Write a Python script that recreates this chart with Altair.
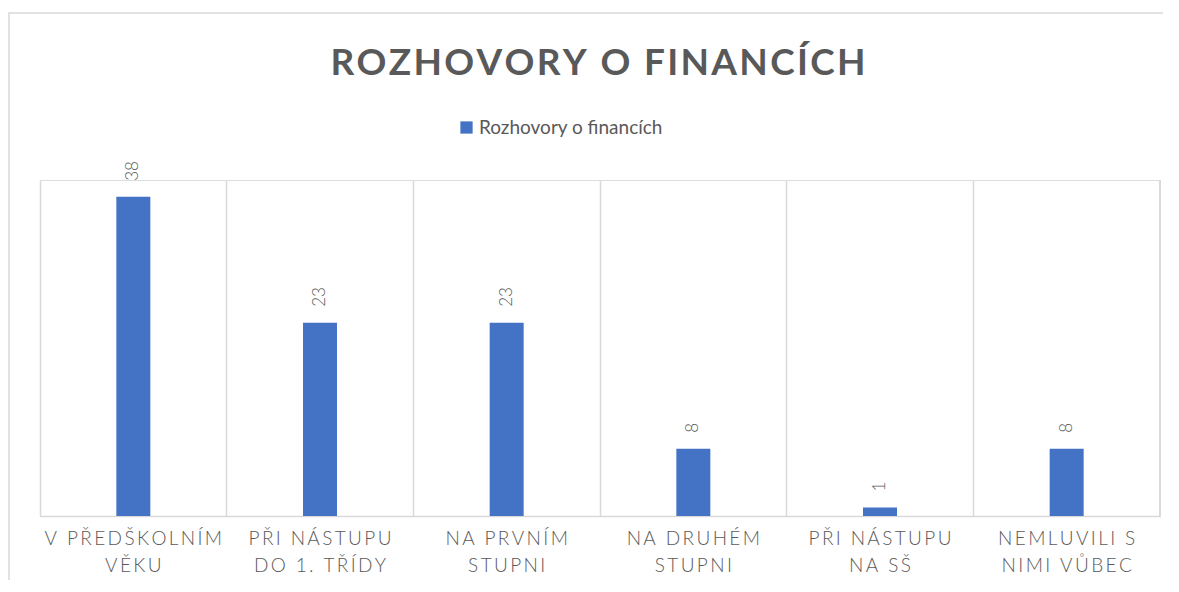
import altair as alt
import pandas as pd

categories = [
    ["V PŘEDŠKOLNÍM", "VĚKU"],
    ["PŘI NÁSTUPU", "DO 1. TŘÍDY"],
    ["NA PRVNÍM", "STUPNI"],
    ["NA DRUHÉM", "STUPNI"],
    ["PŘI NÁSTUPU", "NA SŠ"],
    ["NEMLUVILI S", "NIMI VŮBEC"],
]
values = [38, 23, 23, 8, 1, 8]
series_name = "Rozhovory o financích"
title_text = "ROZHOVORY O FINANCÍCH"


def spaced(s, sep="\u2009"):
    return sep.join(list(s))


labels = ["|".join(spaced(line) for line in cat) for cat in categories]

df = pd.DataFrame({"label": labels, "value": values, "series": series_name})
order = labels

GRAY = "#595959"
GRID = "#d9d9d9"
FONT = "Lato"
W, H = 1120, 336

x = alt.X(
    "label:N",
    sort=order,
    scale=alt.Scale(paddingInner=0, paddingOuter=0),
    axis=alt.Axis(
        title=None,
        labelAngle=0,
        labelExpr="split(datum.label, '|')",
        labelFont=FONT,
        labelFontSize=19,
        labelFontWeight=300,
        labelColor=GRAY,
        labelLineHeight=27,
        labelPadding=13,
        labelLimit=0,
        ticks=False,
        domainColor=GRID,
        domainWidth=1.5,
        grid=True,
        gridColor=GRID,
        gridWidth=1.5,
        bandPosition=0,
    ),
)
y = alt.Y("value:Q", scale=alt.Scale(domain=[0, 40]), axis=None)

bars = alt.Chart(df).mark_bar(size=34, color="#4472C4").encode(
    x=x,
    y=y,
    color=alt.Color(
        "series:N",
        scale=alt.Scale(range=["#4472C4"]),
        legend=alt.Legend(
            title=None,
            orient="none",
            legendX=417,
            legendY=-62,
            padding=0,
            symbolType="square",
            symbolSize=150,
            symbolStrokeWidth=0,
            labelFont=FONT,
            labelFontSize=19,
            labelColor=GRAY,
            labelOffset=3,
            labelLimit=0,
        ),
    ),
)

text = alt.Chart(df).mark_text(
    angle=270, align="left", baseline="middle", yOffset=-16,
    font=FONT, fontSize=17, fontWeight=300, color=GRAY,
).encode(x=alt.X("label:N", sort=order), y="value:Q", text="value:Q")

right_rule = alt.Chart(df).mark_rule(color=GRID, strokeWidth=1.5).encode(
    x=alt.value(W), y=alt.value(0), y2=alt.value(H)
)

border = alt.Chart(pd.DataFrame({"a": [0]})).mark_rect(
    fill=None, stroke=GRID, strokeWidth=1.5, clip=False
).encode(x=alt.value(-31), x2=alt.value(1200), y=alt.value(-167), y2=alt.value(500))

title = alt.Chart(pd.DataFrame({"t": [spaced(title_text, "\u200a")]})).mark_text(
    font=FONT, fontSize=37, fontWeight="bold", color=GRAY,
    align="center", baseline="alphabetic",
).encode(x=alt.value(558), y=alt.value(-105), text="t:N")

chart = (
    alt.layer(border, right_rule, bars, text, title)
    .properties(
        width=W,
        height=H,
        padding={"left": 32, "top": 172, "right": 3, "bottom": 64},
        autosize=alt.AutoSizeParams(type="none"),
    )
    .configure_view(stroke=None)
    .configure(background="white")
)

chart.save("out.html", embed_options={"renderer": "svg", "actions": False})
